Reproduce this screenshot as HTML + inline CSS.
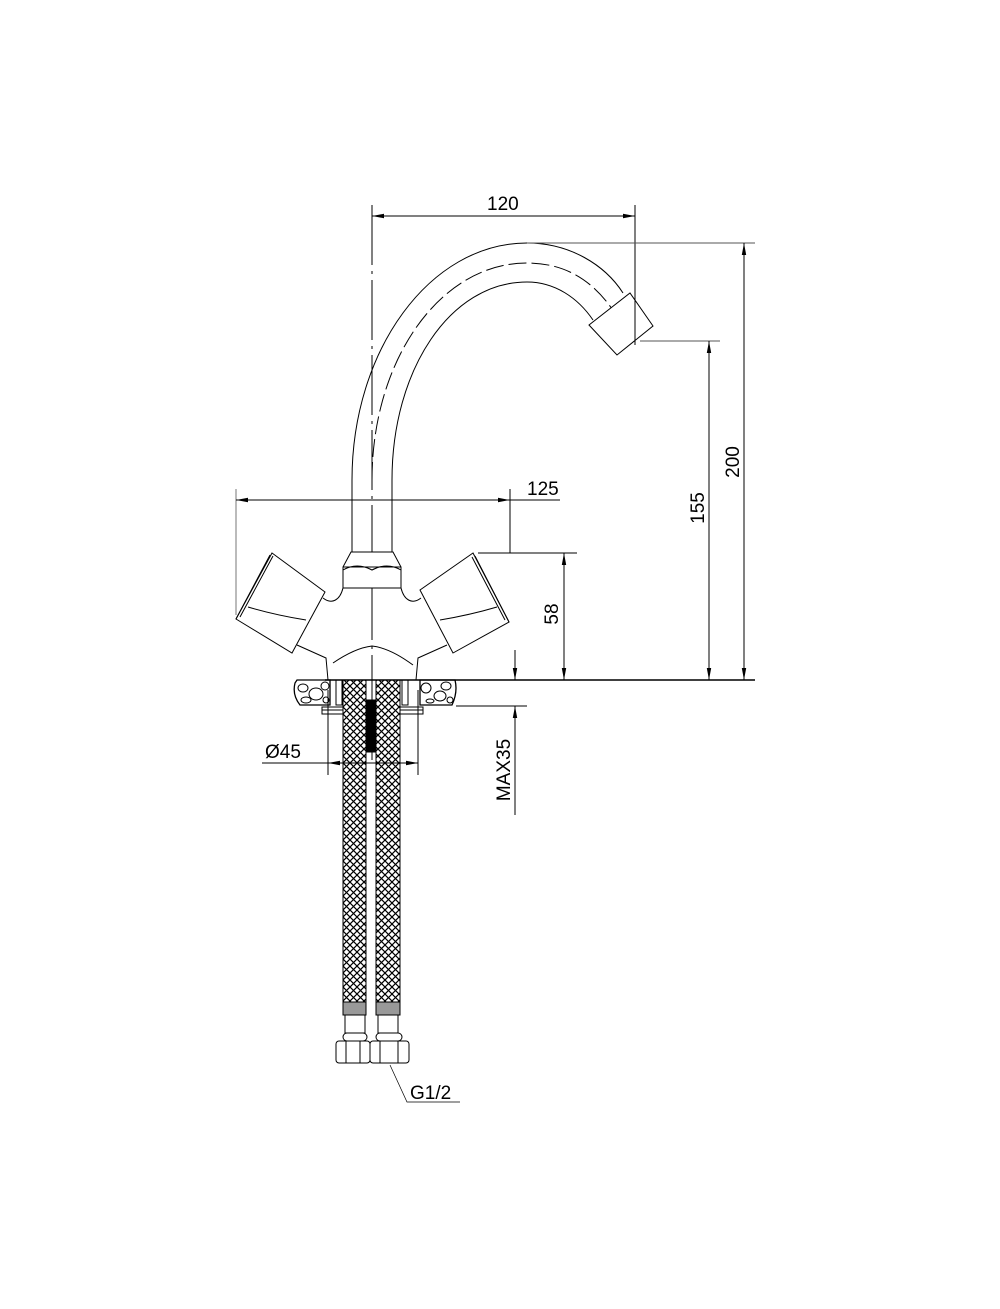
<!DOCTYPE html>
<html><head><meta charset="utf-8"><style>html,body{margin:0;padding:0;background:#fff}svg{display:block}text{font-family:"Liberation Sans",sans-serif;font-size:19px;fill:#000}</style></head>
<body>
<svg width="1000" height="1309" viewBox="0 0 1000 1309" xmlns="http://www.w3.org/2000/svg">
<defs>
<pattern id="x" width="7" height="7" patternUnits="userSpaceOnUse">
<rect width="7" height="7" fill="#fff"/>
<path d="M0,0 L7,7 M7,0 L0,7" stroke="#000" stroke-width="1.2"/>
</pattern>
<marker id="a" markerWidth="12" markerHeight="6" refX="12" refY="3" orient="auto" markerUnits="userSpaceOnUse"><path d="M0,0.8 L12,3 L0,5.2z" fill="#000"/></marker>
<marker id="as" markerWidth="12" markerHeight="6" refX="0" refY="3" orient="auto" markerUnits="userSpaceOnUse"><path d="M12,0.8 L0,3 L12,5.2z" fill="#000"/></marker>
</defs>
<g fill="none" stroke="#000" stroke-width="1">
<line x1="372" y1="205" x2="372" y2="760" stroke-dasharray="60,6,3,6"/>
<path d="M352,555 L352,480 C352,350 430,243 527,243 C570,243 605,265 623,293"/>
<path d="M392,555 L392,480 C392,370 450,282 527,282 C555,282 578,298 593,320"/>
<path d="M372,480 C372,360 440,263 527,263 C570,263 600,285 622,325" stroke-dasharray="18,5"/>
<polygon points="589,325 630,293 653,326 617,355" fill="#fff"/>
<path d="M343,588 L343,567 L351,552 L393,552 L401,567 L401,588 Z" fill="#fff"/>
<line x1="343" y1="567" x2="401" y2="567"/>
<path d="M343,570 Q357,562 372,570 Q387,562 401,570"/>
<path d="M343,588 C340,600 332,605 323,598 M401,588 C404,600 412,605 421,598"/>
<path d="M297,645 L326,658 L328,680 M447,645 L418,658 L416,680"/>
<path d="M333,663 Q355,648 372,646 Q390,648 413,665"/>
<polygon points="272,553 325,592 292,653 236,619" fill="#fff"/>
<path d="M236,619 L270,555 M240,617 L273,556"/>
<path d="M248,607 Q275,615 306,620"/>
<polygon points="473,553 420,590 453,653 509,622" fill="#fff"/>
<path d="M509,622 L475,556 M505,620 L472,557"/>
<path d="M497,607 Q470,615 440,620"/>
<path d="M295,683 Q292,695 300,705 L330,705 L330,680 L297,680 Z M420,680 L455,680 Q458,692 452,705 L420,705 Z" stroke-width="1.3"/>
<g stroke-width="1">
<ellipse cx="303" cy="688" rx="5" ry="4"/><ellipse cx="316" cy="694" rx="7" ry="6"/><ellipse cx="306" cy="700" rx="5" ry="3"/><ellipse cx="325" cy="686" rx="4" ry="4"/><ellipse cx="326" cy="700" rx="3" ry="3"/>
<ellipse cx="426" cy="688" rx="5" ry="5"/><ellipse cx="440" cy="696" rx="6" ry="5"/><ellipse cx="446" cy="686" rx="5" ry="4"/><ellipse cx="430" cy="701" rx="4" ry="2"/><ellipse cx="450" cy="700" rx="3" ry="3"/>
</g>
<rect x="336" y="680" width="6" height="25"/><rect x="402" y="680" width="6" height="25"/>
<rect x="322" y="707" width="101" height="7" fill="#fff"/>
<line x1="322" y1="710" x2="423" y2="710"/>
<rect x="343" y="680" width="23" height="322" fill="url(#x)"/>
<rect x="376" y="680" width="24" height="322" fill="url(#x)"/>
<rect x="343" y="1002" width="23" height="13" fill="#999"/>
<rect x="376" y="1002" width="24" height="13" fill="#999"/>
<rect x="367" y="700" width="9" height="52" fill="#000"/>
<rect x="345" y="1015" width="20" height="18"/><rect x="378" y="1015" width="20" height="18"/>
<rect x="343" y="1033" width="24" height="8" rx="4"/><rect x="376" y="1033" width="26" height="8" rx="4"/>
<rect x="336" y="1041" width="34" height="22" rx="3"/><rect x="370" y="1041" width="39" height="22" rx="3"/>
<path d="M346,1041 L346,1063 M360,1041 L360,1063 M380,1041 L380,1063 M398,1041 L398,1063"/>
<path d="M390,1065 L407,1102 L460,1102" stroke-width="0.7"/>
<line x1="325" y1="680" x2="755" y2="680" stroke-width="1.5"/>
<line x1="635" y1="205" x2="635" y2="345"/>
<line x1="372" y1="216" x2="635" y2="216" marker-start="url(#as)" marker-end="url(#a)"/>
<line x1="527" y1="243" x2="755" y2="243" stroke="#555"/>
<line x1="744" y1="680" x2="744" y2="243" marker-end="url(#a)" marker-start="url(#as)"/>
<line x1="640" y1="341" x2="720" y2="341" stroke="#555"/>
<line x1="709" y1="680" x2="709" y2="341" marker-end="url(#a)" marker-start="url(#as)"/>
<line x1="236" y1="489" x2="236" y2="615" stroke="#777"/>
<line x1="510" y1="489" x2="510" y2="553"/>
<line x1="560" y1="500" x2="236" y2="500" marker-end="url(#a)"/>
<line x1="236" y1="500" x2="510" y2="500" marker-end="url(#a)" stroke-opacity="0"/>
<line x1="478" y1="553" x2="577" y2="553"/>
<line x1="564" y1="680" x2="564" y2="553" marker-end="url(#a)" marker-start="url(#as)"/>
<line x1="456" y1="706" x2="527" y2="706"/>
<line x1="515" y1="650" x2="515" y2="680" marker-end="url(#a)"/>
<line x1="515" y1="815" x2="515" y2="706" marker-end="url(#a)"/>
<line x1="328" y1="690" x2="328" y2="775"/>
<line x1="418" y1="690" x2="418" y2="775"/>
<line x1="262" y1="763" x2="328" y2="763"/>
<line x1="372" y1="763" x2="328" y2="763" marker-end="url(#a)"/>
<line x1="372" y1="763" x2="418" y2="763" marker-end="url(#a)"/>
</g>
<text x="487" y="210">120</text>
<text x="527" y="495">125</text>
<text x="265" y="758">Ø45</text>
<text x="410" y="1099">G1/2</text>
<text transform="translate(739,462) rotate(-90)" text-anchor="middle">200</text>
<text transform="translate(704,508) rotate(-90)" text-anchor="middle">155</text>
<text transform="translate(558,614) rotate(-90)" text-anchor="middle">58</text>
<text transform="translate(510,770) rotate(-90)" text-anchor="middle">MAX35</text>
</svg>
</body></html>
